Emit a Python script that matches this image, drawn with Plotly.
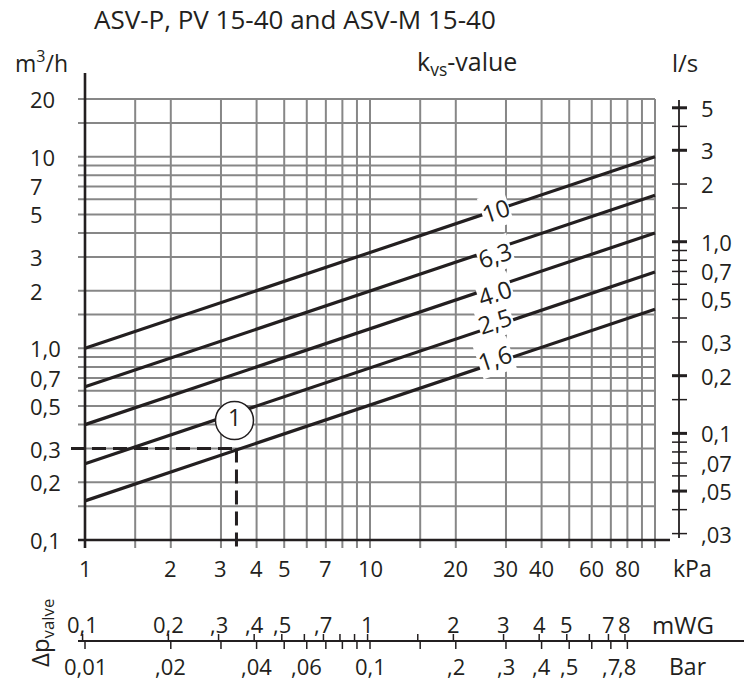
import math
import plotly.graph_objects as go

# ---------------------------------------------------------------------------
# Flow curves: Q [m3/h] against differential pressure [kPa] for each kvs value
# (straight lines on the log-log chart, given by their end points)
kvs_labels = ["10", "6,3", "4,0", "2,5", "1,6"]
dp_ends_kpa = [1, 100]
q_at_1kpa = [1.0, 0.63, 0.40, 0.25, 0.16]
q_at_100kpa = [10.0, 6.3, 4.0, 2.5, 1.6]

# worked example: 0.3 m3/h through kvs 1.6
example_dp_kpa = 3.4
example_q = 0.3
example_tag = "1"

# grid
x_grid_kpa = [1.5, 2, 3, 4, 5, 6, 7, 8, 9, 10, 15, 20, 30, 40, 50, 60, 70, 80, 90, 100]
y_grid_q = [0.15, 0.2, 0.3, 0.4, 0.5, 0.6, 0.7, 0.8, 0.9, 1, 1.5, 2, 3, 4, 5, 6, 7, 8, 9, 10, 15, 20]

# kPa scale
kpa_tick_vals = [1, 2, 3, 4, 5, 7, 10, 20, 30, 40, 60, 80]
kpa_tick_text = ["1", "2", "3", "4", "5", "7", "10", "20", "30", "40", "60", "80"]

# m3/h scale
q_tick_vals = [0.1, 0.2, 0.3, 0.5, 0.7, 1, 2, 3, 5, 7, 10, 20]
q_tick_text = ["0,1", "0,2", "0,3", "0,5", "0,7", "1,0", "2", "3", "5", "7", "10", "20"]

# l/s scale
ls_ticks = [5, 4, 3, 2, 1.5, 1, 0.9, 0.8, 0.7, 0.6, 0.5, 0.4, 0.3, 0.2, 0.15,
            0.1, 0.09, 0.08, 0.07, 0.06, 0.05, 0.04, 0.03]
ls_major = [5, 3, 1, 0.2, 0.1, 0.05]
ls_label_vals = [5, 3, 2, 1, 0.7, 0.5, 0.3, 0.2, 0.1, 0.07, 0.05, 0.03]
ls_label_text = ["5", "3", "2", "1,0", "0,7", "0,5", "0,3", "0,2", "0,1", ",07", ",05", ",03"]

# mWG scale
mwg_ticks = [0.1, 0.2, 0.3, 0.4, 0.5, 0.6, 0.7, 0.8, 0.9, 1, 1.5, 2, 3, 4, 5, 6, 7, 8]
mwg_label_vals = [0.1, 0.2, 0.3, 0.4, 0.5, 0.7, 1, 2, 3, 4, 5, 7, 8]
mwg_label_text = ["0,1", "0,2", ",3", ",4", ",5", ",7", "1", "2", "3", "4", "5", "7", "8"]

# bar scale
bar_ticks = [0.01, 0.02, 0.03, 0.04, 0.05, 0.06, 0.07, 0.08, 0.09, 0.1, 0.15,
             0.2, 0.3, 0.4, 0.5, 0.6, 0.7, 0.8]
bar_label_vals = [0.01, 0.02, 0.04, 0.06, 0.1, 0.2, 0.3, 0.4, 0.5, 0.7, 0.8]
bar_label_text = ["0,01", ",02", ",04", ",06", "0,1", ",2", ",3", ",4", ",5", ",7", ",8"]

# unit conversions
M3H_PER_LS = 3.6
KPA_PER_MWG = 9.80665
KPA_PER_BAR = 100.0

# ---------------------------------------------------------------------------
W, H = 744, 682
FONT = "Open Sans"
INK = "#231f20"
GRID = "#878787"

# page geometry: 1 kPa sits at column 85, 0.1 m3/h at row 540
X_ORIGIN, X_DECADE = 85, 285.0
Y_ORIGIN, Y_DECADE = 540, 191.65


def kx(px):
    """kPa value found at a page column."""
    return 10 ** ((px - X_ORIGIN) / X_DECADE)


def qy(py):
    """m3/h value found at a page row."""
    return 10 ** (-1 + (Y_ORIGIN - py) / Y_DECADE)


def px_x(px):
    return px / W


def px_y(py):
    return 1 - py / H


def segments(pairs):
    xs, ys = [], []
    for (x0, y0), (x1, y1) in pairs:
        xs += [x0, x1, None]
        ys += [y0, y1, None]
    return xs, ys


def line_trace(pairs, width, color=INK, dash=None):
    xs, ys = segments(pairs)
    return go.Scatter(x=xs, y=ys, mode="lines", hoverinfo="skip",
                      line=dict(color=color, width=width, dash=dash))


fig = go.Figure()

# gray grid
grid_pairs = [((v, qy(548)), (v, 20)) for v in x_grid_kpa]
grid_pairs += [((kx(78), v), (100, v)) for v in y_grid_q]
fig.add_trace(line_trace(grid_pairs, 2, GRID))

# main axes
fig.add_trace(line_trace([((1, qy(548)), (1, qy(73))),
                          ((kx(78), 0.1), (kx(670), 0.1))], 2.6))

# l/s scale on the right
ls_x = kx(679)
fig.add_trace(line_trace([((ls_x, qy(100)), (ls_x, qy(538)))], 1.8))
fig.add_trace(line_trace([((kx(672), v * M3H_PER_LS), (kx(687), v * M3H_PER_LS))
                          for v in ls_ticks if v not in ls_major], 1.5))
fig.add_trace(line_trace([((kx(672), v * M3H_PER_LS), (kx(687), v * M3H_PER_LS))
                          for v in ls_major], 3))

# mWG / bar scale below the chart
scale_row = 641
fig.add_trace(line_trace([((kx(78), qy(scale_row)), (kx(760), qy(scale_row)))], 2.2))
fig.add_trace(line_trace([((v * KPA_PER_MWG, qy(scale_row)), (v * KPA_PER_MWG, qy(scale_row - 7)))
                          for v in mwg_ticks], 1.5))
fig.add_trace(line_trace([((v * KPA_PER_BAR, qy(scale_row)), (v * KPA_PER_BAR, qy(scale_row + 8)))
                          for v in bar_ticks], 1.5))

# kvs curves
for q1, q100 in zip(q_at_1kpa, q_at_100kpa):
    fig.add_trace(go.Scatter(x=dp_ends_kpa, y=[q1, q100], mode="lines", hoverinfo="skip",
                             line=dict(color=INK, width=3.2)))

# worked example
fig.add_trace(line_trace([((kx(71), example_q), (example_dp_kpa, example_q)),
                          ((example_dp_kpa, example_q), (example_dp_kpa, qy(548)))],
                         3, INK, dash="14px,7px"))
fig.add_trace(go.Scatter(x=[example_dp_kpa * 10 ** (-2 / X_DECADE)],
                         y=[example_q * 10 ** (28 / Y_DECADE)],
                         mode="markers+text", text=[example_tag], textposition="middle center",
                         textfont=dict(family=FONT, size=23, color=INK),
                         marker=dict(size=38, color="white", line=dict(color=INK, width=1.5)),
                         hoverinfo="skip"))

annotations = []


def text(x, y, s, size=22, xanchor="center", yanchor="middle", **kw):
    annotations.append(dict(x=x, y=y, xref="paper", yref="paper", text=s, showarrow=False,
                            xanchor=xanchor, yanchor=yanchor,
                            font=dict(family=FONT, size=size, color=INK), **kw))


# labels along the kvs curves
label_kpa = 27.5
label_yshift = [0, -6, -6, 5, 5]
slope_deg = math.degrees(math.atan(0.5 * Y_DECADE / X_DECADE))
for lab, q1, q100, dy in zip(kvs_labels, q_at_1kpa, q_at_100kpa, label_yshift):
    t = math.log10(label_kpa / dp_ends_kpa[0]) / math.log10(dp_ends_kpa[1] / dp_ends_kpa[0])
    lq = math.log10(q1) + t * (math.log10(q100) - math.log10(q1))
    annotations.append(dict(x=math.log10(label_kpa), y=lq, xref="x", yref="y", text=lab,
                            showarrow=False, textangle=-slope_deg, bgcolor="white",
                            borderpad=0, yshift=dy,
                            font=dict(family=FONT, size=24, color=INK)))

# titles and units
text(px_x(92), px_y(19), "ASV-P, PV 15-40 and ASV-M 15-40", size=26, xanchor="left")
text(px_x(13), px_y(62), "m<sup>3</sup>/h", size=23, xanchor="left")
text(px_x(415), px_y(62), "k<sub>vs</sub>-value", size=25, xanchor="left")
text(px_x(670), px_y(62), "l/s", size=24, xanchor="left")

# m3/h labels
for v, s in zip(q_tick_vals, q_tick_text):
    annotations.append(dict(x=px_x(28), y=math.log10(v), xref="paper", yref="y", text=s,
                            showarrow=False, xanchor="left", yanchor="middle",
                            font=dict(family=FONT, size=22, color=INK)))
# l/s labels
for v, s in zip(ls_label_vals, ls_label_text):
    annotations.append(dict(x=px_x(699), y=math.log10(v * M3H_PER_LS), xref="paper", yref="y",
                            text=s, showarrow=False, xanchor="left", yanchor="middle",
                            font=dict(family=FONT, size=22, color=INK)))
# kPa labels
for v, s in zip(kpa_tick_vals, kpa_tick_text):
    annotations.append(dict(x=math.log10(v), y=px_y(568), xref="x", yref="paper", text=s,
                            showarrow=False, xanchor="center", yanchor="middle",
                            font=dict(family=FONT, size=22, color=INK)))
text(px_x(692), px_y(568), "kPa", size=23)

# mWG labels
for v, s in zip(mwg_label_vals, mwg_label_text):
    annotations.append(dict(x=math.log10(v * KPA_PER_MWG), y=px_y(624), xref="x", yref="paper",
                            text=s, showarrow=False, xanchor="center", yanchor="middle",
                            font=dict(family=FONT, size=22, color=INK)))
text(px_x(683), px_y(624), "mWG", size=24)

# bar labels
for v, s in zip(bar_label_vals, bar_label_text):
    annotations.append(dict(x=math.log10(v * KPA_PER_BAR), y=px_y(666), xref="x", yref="paper",
                            text=s, showarrow=False, xanchor="center", yanchor="middle",
                            font=dict(family=FONT, size=22, color=INK)))
text(px_x(688), px_y(666), "Bar", size=23)

text(px_x(41), px_y(633), "Δp<sub>valve</sub>", size=24, textangle=-90)

fig.update_layout(
    width=W, height=H,
    margin=dict(l=0, r=0, t=0, b=0),
    paper_bgcolor="white", plot_bgcolor="white",
    showlegend=False,
    annotations=annotations,
    xaxis=dict(type="log", visible=False, fixedrange=True,
               range=[-X_ORIGIN / X_DECADE, (W - X_ORIGIN) / X_DECADE]),
    yaxis=dict(type="log", visible=False, fixedrange=True,
               range=[-1 - (H - Y_ORIGIN) / Y_DECADE, -1 + Y_ORIGIN / Y_DECADE]),
)

fig.write_html("out.html")
